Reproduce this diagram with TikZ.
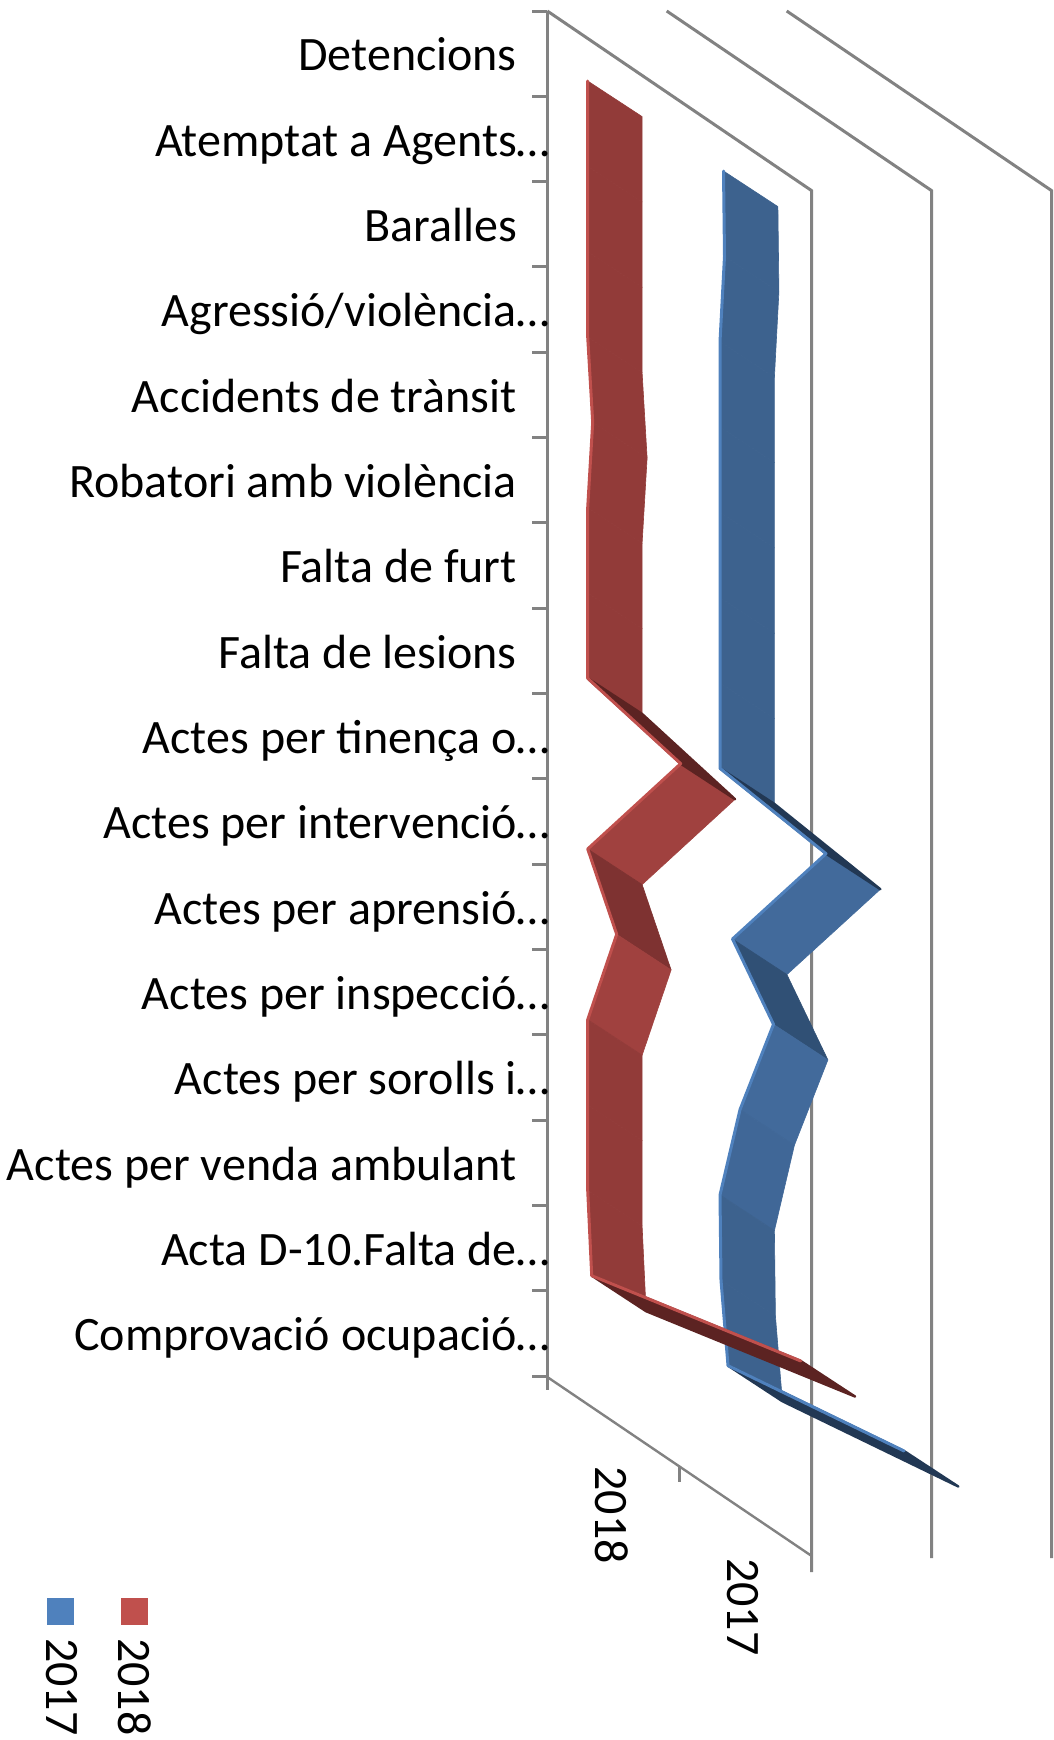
\documentclass[tikz,border=0pt]{standalone}
\usepackage{fontspec}
\setmainfont{Carlito}
\definecolor{gridgray}{RGB}{130,130,130}
\definecolor{redM}{RGB}{146,59,57}
\definecolor{redL}{RGB}{160,65,63}
\definecolor{redD}{RGB}{126,50,49}
\definecolor{redS}{RGB}{92,35,34}
\definecolor{redE}{RGB}{192,80,77}
\definecolor{blueM}{RGB}{61,98,142}
\definecolor{blueL}{RGB}{66,106,155}
\definecolor{blueL2}{RGB}{64,103,151}
\definecolor{blueD}{RGB}{48,80,117}
\definecolor{blueS}{RGB}{34,56,84}
\definecolor{blueE}{RGB}{79,129,189}
\begin{document}
\begin{tikzpicture}[x=1pt,y=-1pt,
  grid/.style={draw=gridgray,line width=3pt},
  lab/.style={inner sep=0pt,font=\fontsize{48}{56}\selectfont,text=black},
  face/.style={fill=#1,draw=#1,line width=0.6pt,line join=round},
  sliver/.style={fill=#1,draw=#1,line width=2.4pt,line join=round},
  edgehi/.style={draw=#1,line width=3pt,line join=round,line cap=round}]
\useasboundingbox (0,0) rectangle (1054,1740);

% walls and axes
\draw[grid] (547.3,11) -- (547.3,1390);
\foreach \k in {0,...,16} \draw[grid] (532,{11+85.33*\k}) -- (547.3,{11+85.33*\k});
\draw[grid] (547.3,11) -- (811.7,190.7) -- (811.7,1572);
\draw[grid] (666.7,11) -- (931.7,190.7) -- (931.7,1558);
\draw[grid] (786.7,11) -- (1051.7,190.7) -- (1051.7,1558);
\draw[grid,line width=2.4pt] (547.3,1377) -- (811.7,1556);
\draw[grid,line width=2.4pt] (679.5,1466.5) -- (679.5,1482);

% blue series (2017)
\foreach \i/\v in {0/3.5,1/4.5,2/0,3/0,4/0,5/0,6/0,7/0,8/106,9/12.5,10/53.5,11/20,12/0,13/1,14/8,15/184}{
  \coordinate (bF\i) at ({720+\v},{171+85.33*\i});
  \coordinate (bB\i) at ({774.4+\v},{206.6+85.33*\i});
}
\foreach \i/\j/\c in {0/1/blueM,1/2/blueM,2/3/blueM,3/4/blueM,4/5/blueM,5/6/blueM,6/7/blueM,8/9/blueL,9/10/blueD,10/11/blueL,11/12/blueL2,12/13/blueM,13/14/blueM}
  \filldraw[face=\c] (bF\i) -- (bF\j) -- (bB\j) -- (bB\i) -- cycle;
\foreach \i/\j in {7/8,14/15}
  \filldraw[sliver=blueS] (bF\i) -- (bF\j) -- (bB\j) -- (bB\i) -- cycle;
\draw[edgehi=blueE] (bF0) \foreach \i in {1,...,15}{ -- (bF\i)};

% red series (2018)
\foreach \i/\v in {0/0,1/0,2/0,3/0,4/5,5/0,6/0,7/0,8/93,9/0,10/29,11/0,12/0,13/0,14/4,15/213}{
  \coordinate (rF\i) at ({587.7+\v},{81+85.33*\i});
  \coordinate (rB\i) at ({642.1+\v},{116.6+85.33*\i});
}
\foreach \i/\j/\c in {0/1/redM,1/2/redM,2/3/redM,3/4/redM,4/5/redM,5/6/redM,6/7/redM,8/9/redL,9/10/redD,10/11/redL,11/12/redM,12/13/redM,13/14/redM}
  \filldraw[face=\c] (rF\i) -- (rF\j) -- (rB\j) -- (rB\i) -- cycle;
\foreach \i/\j in {7/8,14/15}
  \filldraw[sliver=redS] (rF\i) -- (rF\j) -- (rB\j) -- (rB\i) -- cycle;
\draw[edgehi=redE] (rF0) \foreach \i in {1,...,15}{ -- (rF\i)};

% category labels
\foreach \i/\t in {0/{Detencions},1/{Atemptat a Agents\rlap{…}},2/{Baralles},3/{Agressió/violència\rlap{…}},4/{Accidents de trànsit},5/{Robatori amb violència},6/{Falta de furt},7/{Falta de lesions},8/{Actes per tinença o\rlap{…}},9/{Actes per intervenció\rlap{…}},10/{Actes per aprensió\rlap{…}},11/{Actes per inspecció\rlap{…}},12/{Actes per sorolls i\rlap{…}},13/{Actes per venda ambulant},14/{Acta D-10.Falta de\rlap{…}},15/{Comprovació ocupació\rlap{…}}}
  \node[lab,anchor=base east] (cat\i) at (517,{70.7+85.33*\i}) {\t};

% series labels
\node[lab,rotate=-90] (ser18) at (611.7,1515) {2018};
\node[lab,rotate=-90] (ser17) at (743.3,1606.7) {2017};

% legend
\fill[blueE] (46.7,1598.3) rectangle (74,1625);
\fill[redE] (121,1598.3) rectangle (147.7,1625);
\node[lab,rotate=-90] (leg17) at (61.5,1686.7) {2017};
\node[lab,rotate=-90] (leg18) at (135,1686.7) {2018};
\end{tikzpicture}
\end{document}
